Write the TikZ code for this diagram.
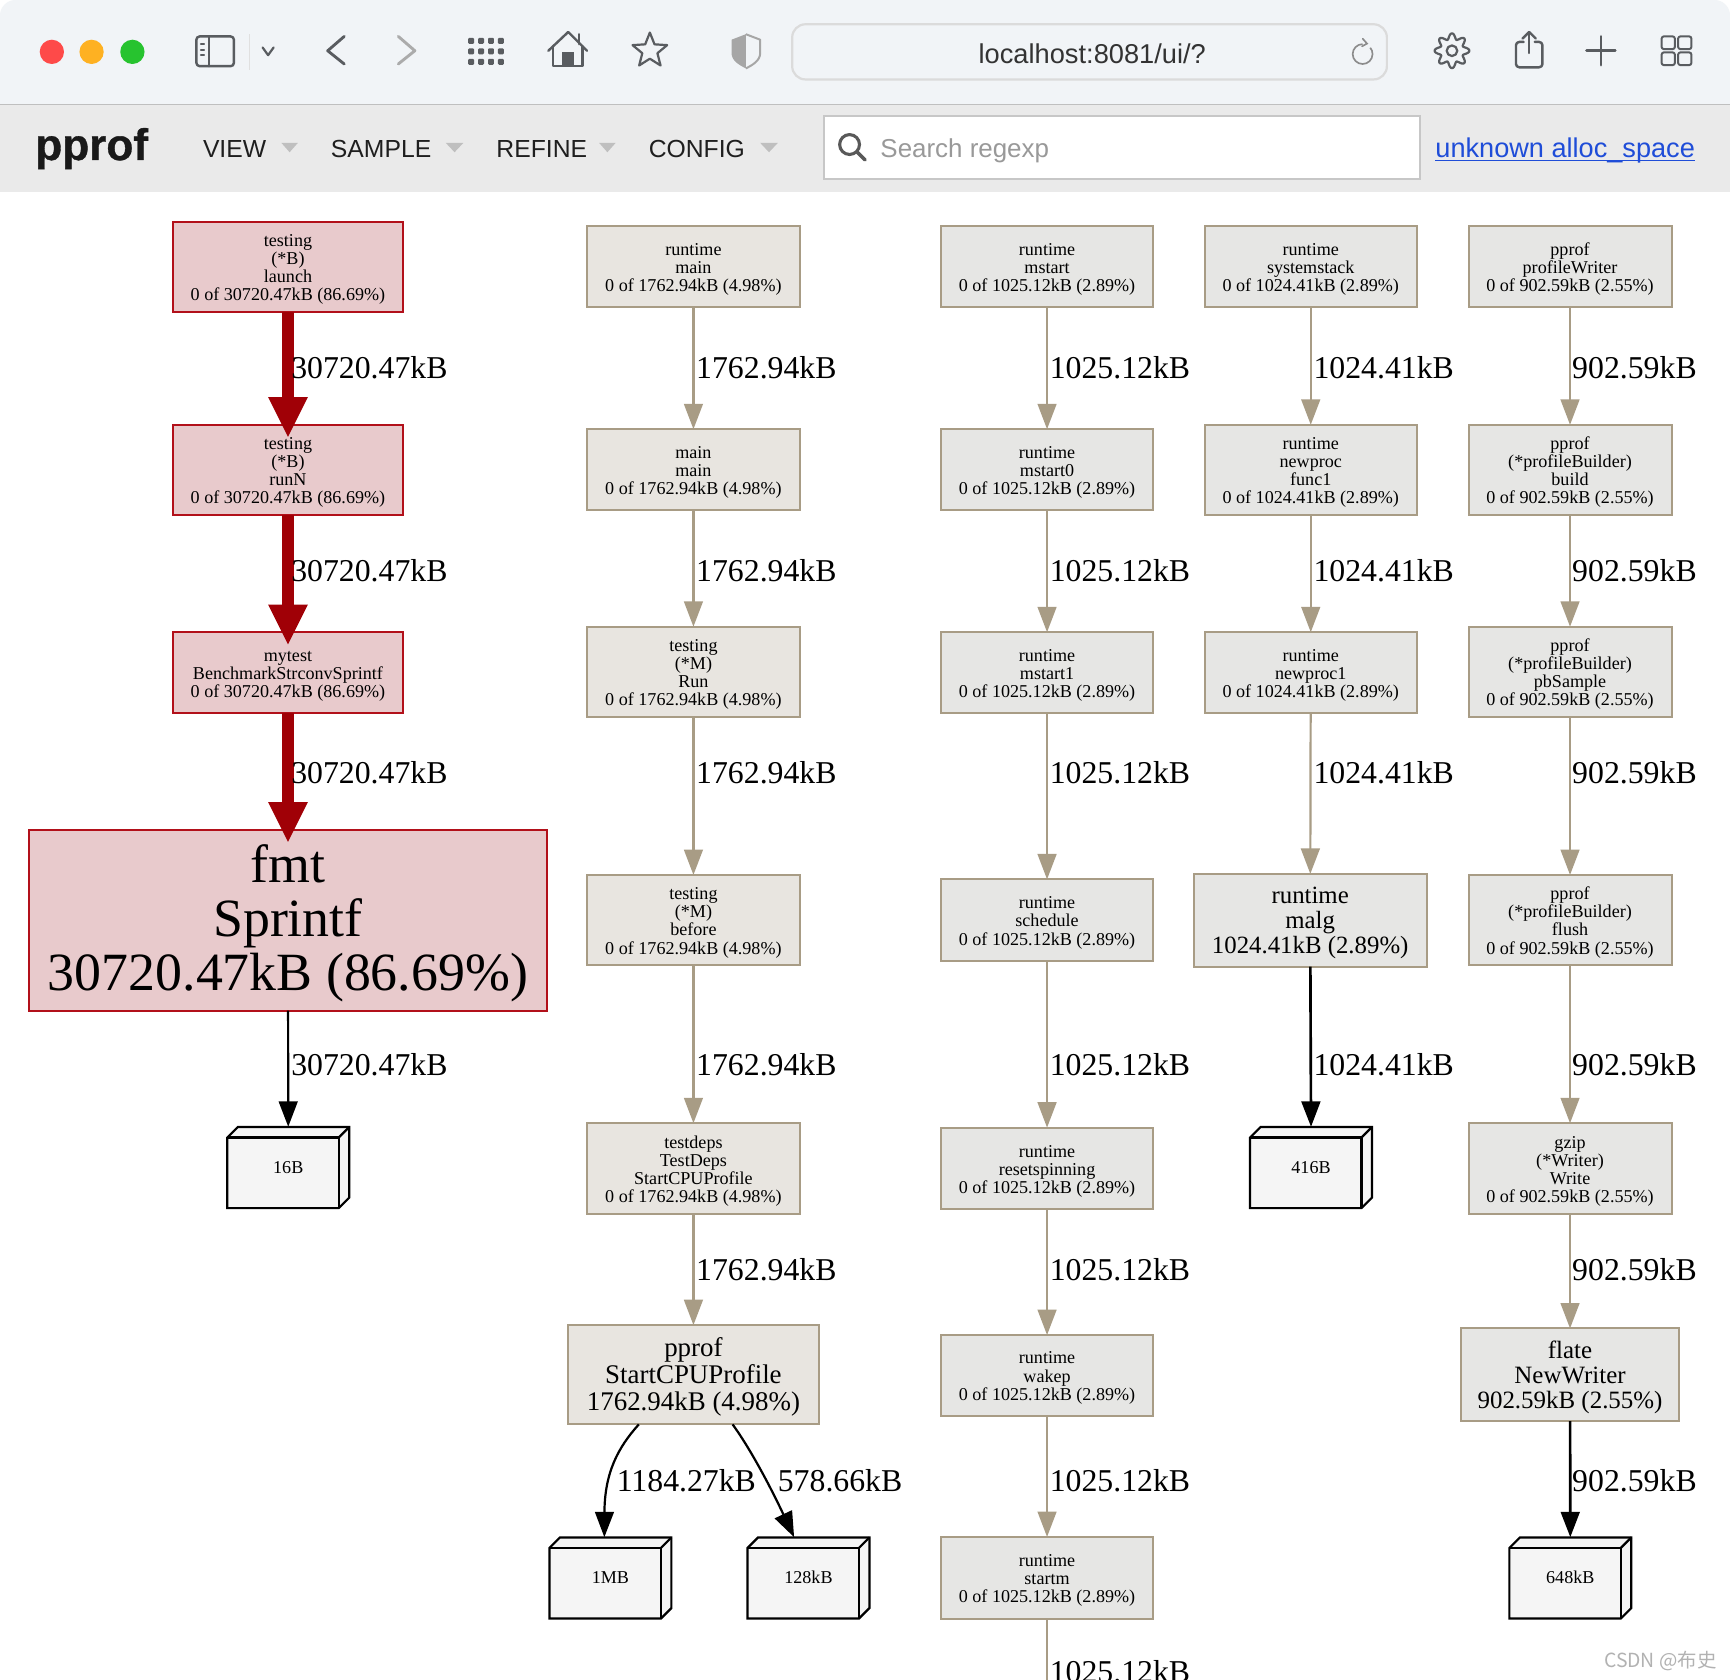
\documentclass[tikz,border=0pt]{standalone}
\usepackage{fontspec}
\setmainfont{Liberation Serif}
\newfontfamily\uisans{Liberation Sans}
\newfontfamily\logofont[BoldFeatures={FakeBold=0.8}]{Liberation Sans}
\newfontfamily\cjkfont{Noto Sans CJK SC}
\usetikzlibrary{arrows.meta}
\definecolor{redfill}{HTML}{E8CACC}
\definecolor{redline}{HTML}{B2101A}
\definecolor{rededge}{HTML}{A00006}
\definecolor{sandfill}{HTML}{E8E5E0}
\definecolor{grayfill}{HTML}{E6E6E4}
\definecolor{tanline}{HTML}{A89C85}
\definecolor{memfill}{HTML}{F5F5F5}
\definecolor{barbg}{HTML}{F1F4F7}
\definecolor{menubg}{HTML}{EAEAEA}
\definecolor{iconc}{HTML}{595C60}
\definecolor{linkblue}{HTML}{1F4DD8}
\definecolor{lightred}{HTML}{FE4A49}
\definecolor{lightamber}{HTML}{FEB122}
\definecolor{lightgreen}{HTML}{27C32F}
\tikzset{
  fs/.style={font=\fontsize{#1}{#1}\selectfont},
  gbox/.style={draw,line width=1.8pt,inner sep=0pt,outer sep=0pt,align=center},
  redbox/.style={gbox,fill=redfill,draw=redline},
  sandbox/.style={gbox,fill=sandfill,draw=tanline},
  graybox/.style={gbox,fill=grayfill,draw=tanline},
  memnode/.style={inner sep=0pt,outer sep=0pt,align=center,fs=16.4},
  memface/.style={draw=black,line width=2pt,fill=memfill,line join=miter},
  rededgeline/.style={draw=rededge,line width=10.4pt,-{Triangle[length=37pt,width=33pt]},shorten >=-12pt},
  tanedge/.style={draw=tanline,line width=2pt,-{Triangle[length=23pt,width=17pt]}},
  tanplain/.style={draw=tanline,line width=2pt},
  blackedge/.style={draw=black,line width=2pt,-{Triangle[length=23pt,width=17pt]}},
  elabel/.style={anchor=base west,inner sep=0pt,outer sep=0pt,fs=28.8},
  icon/.style={draw=iconc,line width=2.2pt,line cap=round,line join=round},
  uitext/.style={anchor=base west,inner sep=0pt,outer sep=0pt},
  menutext/.style={uitext,font=\uisans\fontsize{22.4}{22.4}\selectfont,text=black!88},
  menutri/.style={fill=black!25,draw=none},
}
% style, name, x1, x2, y1, y2, font size, text
\newcommand\gbn[8]{\node[#1,fs=#7,minimum width={(#4-#3)*1pt},minimum height={(#6-#5)*1pt}] (#2) at ({(#3+#4)/2},{(#5+#6)/2}) {\rule{0pt}{\dimexpr 0.683em+4.5pt\relax}#8};}
% name, x left, y top, text : outer size 110 x 73.5, depth 9.5
\newcommand\memb[4]{%
  \path[memface] (#2,#3+9.5) -- (#2+9.5,#3) -- (#2+110.5,#3) -- (#2+110.5,#3+64) -- (#2+101,#3+73.5) -- (#2,#3+73.5) -- cycle;
  \draw[memface,fill=none] (#2,#3+9.5) -- (#2+101,#3+9.5) -- (#2+101,#3+73.5);
  \draw[memface,fill=none] (#2+101,#3+9.5) -- (#2+110.5,#3);
  \node[memnode,minimum width=110.5pt,minimum height=73.5pt] (#1) at (#2+55.25,#3+36.5) {#4};}
\newcommand\elab[4]{\node[elabel] (#1) at (#2,#3+0.7) {#4};}
\begin{document}
\begin{tikzpicture}[x=1pt,y=-1pt]
\useasboundingbox (0,0) rectangle (1568,1522.6);
\fill[white] (0,0) rectangle (1568,1522.6);
% ---------- browser chrome
\fill[barbg] (0,95) -- (0,14) arc[start angle=180,end angle=270,radius=14] -- (1554,0) arc[start angle=-90,end angle=0,radius=14] -- (1568,95) -- cycle;
\fill[menubg] (0,95) rectangle (1568,174);
\draw[black!25,line width=1.2pt] (0,95) -- (1568,95);
\fill[lightred] (47,47) circle (11);
\fill[lightamber] (83,47) circle (11);
\fill[lightgreen] (120,47) circle (11);
% sidebar icon
\draw[icon,rounded corners=3pt] (178,33) rectangle (212,60);
\draw[icon] (189.5,33) -- (189.5,60);
\draw[icon,line width=1.6pt] (182,40) -- (185,40) (182,45) -- (185,45) (182,50) -- (185,50);
\draw[black!12,line width=1pt] (226,31) -- (226,63);
\draw[icon,line width=2pt] (238,43) -- (243,50) -- (248,43);
% back / forward
\draw[icon,line width=2.6pt] (312,33) -- (297,46) -- (312,58);
\draw[icon,line width=2.6pt,draw=black!33] (361,33) -- (376,46) -- (361,58);
% grid
\foreach \gx in {427,436,445,454} \foreach \gy in {37,46.5,56}
  \fill[iconc,rounded corners=1pt] (\gx-2.7,\gy-2.7) rectangle (\gx+2.7,\gy+2.7);
% home
\draw[icon] (497,46) -- (515,29) -- (532,46);
\draw[icon] (501,42) -- (501,60) -- (528,60) -- (528,42);
\draw[icon] (525,31) -- (525,40);
\fill[iconc] (509,47) rectangle (520,60);
% star
\draw[icon,line width=2pt] plot[samples at={0,...,9}] ({589+(ifthenelse(mod(\x,2)==0,16.5,7.2))*cos(-90+36*\x)},{46+(ifthenelse(mod(\x,2)==0,16.5,7.2))*sin(-90+36*\x)}) -- cycle;
% shield
\fill[black!35] (676,31) -- (663,36) -- (663,48) .. controls (663,55) and (670,59) .. (676,62) -- cycle;
\draw[black!35,line width=1.8pt,line join=round] (676,31) -- (689,36) -- (689,48) .. controls (689,55) and (682,59) .. (676,62);
% url field
\draw[draw=black!14,line width=2pt,fill=barbg,rounded corners=12pt] (718,22) rectangle (1257,72);
\node[inner sep=0pt,anchor=base,font=\uisans\fontsize{24.7}{24.7}\selectfont,text=black!80] (url) at (990,57.5) {localhost:8081/ui/?};
% reload
\draw[draw=black!45,line width=1.5pt] (1235,40) arc[start angle=-90,delta angle=-310,radius=9];
\draw[draw=black!45,line width=1.5pt,line cap=round] (1235,35) -- (1239,39.5) -- (1234.5,42);
% gear
\draw[icon,line width=2pt] plot[domain=0:360,samples=97,smooth] ({1316+(13.2+2.6*cos(8*\x))*cos(\x)},{46+(13.2+2.6*cos(8*\x))*sin(\x)}) -- cycle;
\draw[icon,line width=2pt] (1316,46) circle (4.8);
% share
\draw[icon,rounded corners=3pt] (1381,38) -- (1374,38) -- (1374,61) -- (1398,61) -- (1398,38) -- (1391,38);
\draw[icon] (1386,29) -- (1386,48);
\draw[icon] (1380,35) -- (1386,29) -- (1392,35);
% plus
\draw[icon,line width=2.6pt] (1438,46) -- (1464,46) (1451,33) -- (1451,59);
% tabs
\foreach \tx in {1506,1521} \foreach \ty in {33,47.5}
  \draw[icon,line width=1.8pt,rounded corners=2pt] (\tx,\ty) rectangle (\tx+12,\ty+11.5);
% ---------- pprof menu bar
\node[uitext,font=\logofont\bfseries\fontsize{40}{40}\selectfont,text=black!90] (logo) at (32,145) {pprof};
\node[menutext] (mview) at (184,142.5) {VIEW};
\node[menutext] (msample) at (300,142.5) {SAMPLE};
\node[menutext] (mrefine) at (450,142.5) {REFINE};
\node[menutext] (mconfig) at (588,142.5) {CONFIG};
\fill[menutri] (255,129.5) -- (270,129.5) -- (262.5,138) -- cycle;
\fill[menutri] (404,129.5) -- (420,129.5) -- (412,138) -- cycle;
\fill[menutri] (543,129.5) -- (558,129.5) -- (550.5,138) -- cycle;
\fill[menutri] (689,129.5) -- (705,129.5) -- (697,138) -- cycle;
\draw[draw=black!22,line width=2pt,fill=white] (747,105) rectangle (1287,162);
\draw[draw=black!65,line width=2.8pt] (770,131) circle (9);
\draw[draw=black!65,line width=3.2pt,line cap=round] (777,138) -- (784,145);
\node[uitext,font=\uisans\fontsize{23.5}{23.5}\selectfont,text=black!40] (search) at (798,142.5) {Search regexp};
\node[uitext,font=\uisans\fontsize{24.6}{24.6}\selectfont,text=linkblue] (link) at (1301,143) {unknown alloc\_space};
\draw[linkblue,line width=1.4pt] ([yshift=-2.5pt]link.base west) -- ([yshift=-2.5pt]link.base east);
% ---------- column 1
\gbn{redbox}{a1}{157}{365}{201}{283}{16.4}{testing\\(*B)\\launch\\0 of 30720.47kB (86.69\%)}
\gbn{redbox}{a2}{157}{365}{385}{467}{16.4}{testing\\(*B)\\runN\\0 of 30720.47kB (86.69\%)}
\gbn{redbox}{a3}{157}{365}{573}{646}{16.4}{mytest\\BenchmarkStrconvSprintf\\0 of 30720.47kB (86.69\%)}
\gbn{redbox}{a4}{26}{496}{752}{916}{48.8}{\rule{0pt}{40pt}fmt\\[0.4pt]Sprintf\\[0.4pt]30720.47kB (86.69\%)}
\memb{a5}{206}{1021.5}{16B}
\draw[rededgeline] (a1) -- (a2);
\draw[rededgeline] (a2) -- (a3);
\draw[rededgeline] (a3) -- (a4);
\draw[blackedge] (a4) -- (a5.north);
% ---------- column 2
\gbn{sandbox}{b1}{532}{725}{205}{278}{16.4}{runtime\\main\\0 of 1762.94kB (4.98\%)}
\gbn{sandbox}{b2}{532}{725}{389}{462}{16.4}{main\\main\\0 of 1762.94kB (4.98\%)}
\gbn{sandbox}{b3}{532}{725}{568}{650}{16.4}{testing\\(*M)\\Run\\0 of 1762.94kB (4.98\%)}
\gbn{sandbox}{b4}{532}{725}{793}{875}{16.4}{testing\\(*M)\\before\\0 of 1762.94kB (4.98\%)}
\gbn{sandbox}{b5}{532}{725}{1018}{1100}{16.4}{testdeps\\TestDeps\\StartCPUProfile\\0 of 1762.94kB (4.98\%)}
\gbn{sandbox}{b6}{515}{742}{1201}{1291}{24.4}{pprof\\StartCPUProfile\\1762.94kB (4.98\%)}
\memb{b7}{498}{1393.5}{1MB}
\memb{b8}{677.5}{1393.5}{128kB}
\draw[tanedge] (b1) -- (b2);
\draw[tanedge] (b2) -- (b3);
\draw[tanedge] (b3) -- (b4);
\draw[tanedge] (b4) -- (b5);
\draw[tanedge] (b5) -- (b6);
\draw[blackedge] ([xshift=-49.5pt]b6.south) .. controls (560,1312) and (548,1335) .. ([xshift=-5.5pt]b7.north);
\draw[blackedge] ([xshift=35.5pt]b6.south) .. controls (680,1313) and (698,1347) .. ([xshift=-13pt]b8.north);
% ---------- column 3
\gbn{graybox}{c1}{853}{1045}{205}{278}{16.4}{runtime\\mstart\\0 of 1025.12kB (2.89\%)}
\gbn{graybox}{c2}{853}{1045}{389}{462}{16.4}{runtime\\mstart0\\0 of 1025.12kB (2.89\%)}
\gbn{graybox}{c3}{853}{1045}{573}{646}{16.4}{runtime\\mstart1\\0 of 1025.12kB (2.89\%)}
\gbn{graybox}{c4}{853}{1045}{797}{871}{16.4}{runtime\\schedule\\0 of 1025.12kB (2.89\%)}
\gbn{graybox}{c5}{853}{1045}{1022}{1096}{16.4}{runtime\\resetspinning\\0 of 1025.12kB (2.89\%)}
\gbn{graybox}{c6}{853}{1045}{1210}{1283}{16.4}{runtime\\wakep\\0 of 1025.12kB (2.89\%)}
\gbn{graybox}{c7}{853}{1045}{1393}{1467}{16.4}{runtime\\startm\\0 of 1025.12kB (2.89\%)}
\coordinate (c8) at (949,1530);
\draw[tanedge] (c1) -- (c2);
\draw[tanedge] (c2) -- (c3);
\draw[tanedge] (c3) -- (c4);
\draw[tanedge] (c4) -- (c5);
\draw[tanedge] (c5) -- (c6);
\draw[tanedge] (c6) -- (c7);
\draw[tanplain] (c7.south) -- (c8);
% ---------- column 4
\gbn{graybox}{d1}{1092}{1284}{205}{278}{16.4}{runtime\\systemstack\\0 of 1024.41kB (2.89\%)}
\gbn{graybox}{d2}{1092}{1284}{385}{467}{16.4}{runtime\\newproc\\func1\\0 of 1024.41kB (2.89\%)}
\gbn{graybox}{d3}{1092}{1284}{573}{646}{16.4}{runtime\\newproc1\\0 of 1024.41kB (2.89\%)}
\gbn{graybox}{d4}{1082}{1293}{792}{876}{22.5}{runtime\\malg\\1024.41kB (2.89\%)}
\memb{d5}{1133}{1021.5}{416B}
\draw[tanedge] (d1) -- (d2);
\draw[tanedge] (d2) -- (d3);
\draw[tanedge] (d3) -- (d4);
\draw[blackedge,line width=2.4pt] (d4) -- (d5.north);
% ---------- column 5
\gbn{graybox}{e1}{1331}{1515}{205}{278}{16.4}{pprof\\profileWriter\\0 of 902.59kB (2.55\%)}
\gbn{graybox}{e2}{1331}{1515}{385}{467}{16.4}{pprof\\(*profileBuilder)\\build\\0 of 902.59kB (2.55\%)}
\gbn{graybox}{e3}{1331}{1515}{568}{650}{16.4}{pprof\\(*profileBuilder)\\pbSample\\0 of 902.59kB (2.55\%)}
\gbn{graybox}{e4}{1331}{1515}{793}{875}{16.4}{pprof\\(*profileBuilder)\\flush\\0 of 902.59kB (2.55\%)}
\gbn{graybox}{e5}{1331}{1515}{1018}{1100}{16.4}{gzip\\(*Writer)\\Write\\0 of 902.59kB (2.55\%)}
\gbn{graybox}{e6}{1324}{1522}{1204}{1288}{22.6}{flate\\NewWriter\\902.59kB (2.55\%)}
\memb{e7}{1368}{1393.5}{648kB}
\draw[tanedge] (e1) -- (e2);
\draw[tanedge] (e2) -- (e3);
\draw[tanedge] (e3) -- (e4);
\draw[tanedge] (e4) -- (e5);
\draw[tanedge] (e5) -- (e6);
\draw[blackedge,line width=2.4pt] (e6) -- (e7.north);
% ---------- edge labels
\elab{la1}{264}{342.5}{30720.47kB}
\elab{la2}{264}{526}{30720.47kB}
\elab{la3}{264}{709.5}{30720.47kB}
\elab{la4}{264}{974.5}{30720.47kB}
\elab{lb1}{631}{342.5}{1762.94kB}
\elab{lb2}{631}{526}{1762.94kB}
\elab{lb3}{631}{709.5}{1762.94kB}
\elab{lb4}{631}{974.5}{1762.94kB}
\elab{lb5}{631}{1159.5}{1762.94kB}
\elab{lb6}{559}{1351}{1184.27kB}
\elab{lb7}{705}{1351}{578.66kB}
\elab{lc1}{951.5}{342.5}{1025.12kB}
\elab{lc2}{951.5}{526}{1025.12kB}
\elab{lc3}{951.5}{709.5}{1025.12kB}
\elab{lc4}{951.5}{974.5}{1025.12kB}
\elab{lc5}{951.5}{1159.5}{1025.12kB}
\elab{lc6}{951.5}{1351}{1025.12kB}
\elab{lc7}{951.5}{1524}{1025.12kB}
\elab{ld1}{1190.5}{342.5}{1024.41kB}
\elab{ld2}{1190.5}{526}{1024.41kB}
\elab{ld3}{1190.5}{709.5}{1024.41kB}
\elab{ld4}{1190.5}{974.5}{1024.41kB}
\elab{le1}{1425}{342.5}{902.59kB}
\elab{le2}{1425}{526}{902.59kB}
\elab{le3}{1425}{709.5}{902.59kB}
\elab{le4}{1425}{974.5}{902.59kB}
\elab{le5}{1425}{1159.5}{902.59kB}
\elab{le6}{1425}{1351}{902.59kB}
% ---------- watermark
\node[anchor=base east,inner sep=0pt,font=\cjkfont\fontsize{17.6}{17.6}\selectfont,text=black!30] (wm) at (1556,1511.5) {CSDN @布史};
\end{tikzpicture}
\end{document}
